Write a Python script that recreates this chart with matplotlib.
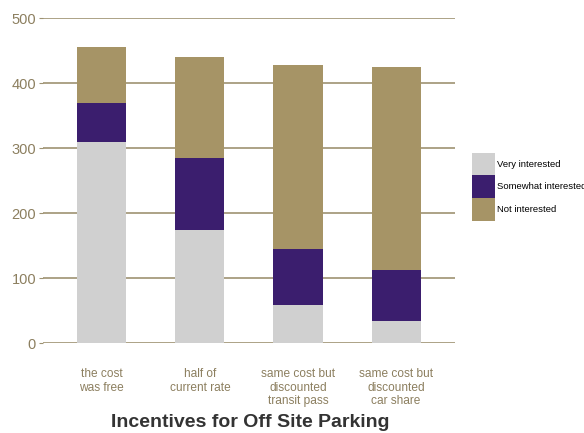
import matplotlib.pyplot as plt
from matplotlib.patches import Patch

plt.rcParams['font.family'] = ['Liberation Sans', 'DejaVu Sans']

# Donnees
categories = ["the cost\nwas free", "half of\ncurrent rate",
              "same cost but\ndiscounted\ntransit pass", "same cost but\ndiscounted\ncar share"]
very = [310, 175, 59, 35]
somewhat = [60, 110, 86, 78]
not_int = [85, 155, 283, 312]
series_names = ["Very interested", "Somewhat interested", "Not interested"]
colors = ["#d0d0d0", "#3b1e6e", "#a69466"]

tan = "#8c7f5f"
grid_col = "#9e9272"

fig = plt.figure(figsize=(5.84, 4.33), dpi=100)
ax = fig.add_axes([0.0736, 0.2067, 0.7054, 0.7517])

x = list(range(len(categories)))
bottom2 = [a + b for a, b in zip(very, somewhat)]
ax.bar(x, very, width=0.5, color=colors[0], zorder=3)
ax.bar(x, somewhat, width=0.5, bottom=very, color=colors[1], zorder=3)
ax.bar(x, not_int, width=0.5, bottom=bottom2, color=colors[2], zorder=3)

ax.set_xlim(-0.6, 3.6)
ax.set_ylim(0, 500)
ax.set_yticks([0, 100, 200, 300, 400, 500])
ax.yaxis.grid(True, color=grid_col, linewidth=1.2, zorder=0)
ax.set_axisbelow(True)
for s in ax.spines.values():
    s.set_visible(False)

ax.tick_params(axis='y', colors=grid_col, labelcolor=tan, labelsize=10.5, length=3, pad=2)
ax.tick_params(axis='x', length=0, labelcolor=tan, labelsize=8.6, pad=18)
ax.set_xticks(x)
ax.set_xticklabels(categories, linespacing=1.15)

fig.text(0.428, 0.004, "Incentives for Off Site Parking", ha='center', va='bottom',
         fontsize=14, fontweight='bold', color="#333333")

# legende (le texte deborde a droite comme dans l'original)
handles = [Patch(facecolor=c, edgecolor='none') for c in colors]
fig.legend(handles, series_names, loc='upper left', bbox_to_anchor=(0.808, 0.647),
           frameon=False, fontsize=6.8, handlelength=2.4, handleheight=3.3,
           labelspacing=0.0, handletextpad=0.3, borderpad=0, borderaxespad=0)

fig.savefig("out.png", dpi=100)
